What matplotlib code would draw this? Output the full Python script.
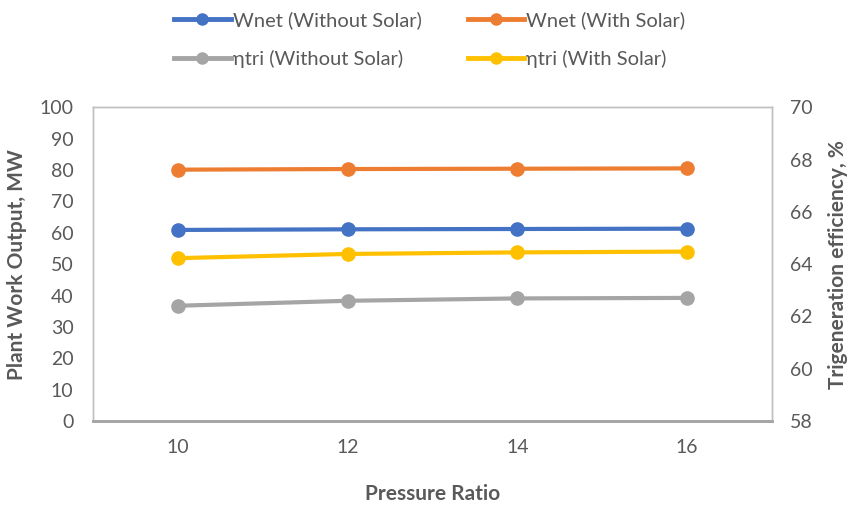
"""Plant work output and trigeneration efficiency against pressure ratio"""

import matplotlib.pyplot as plt
from matplotlib.lines import Line2D

plt.rcParams['font.family'] = ['Lato', 'DejaVu Sans']

pressure_ratio = ['10', '12', '14', '16']
wnet_without = [60.9, 61.1, 61.2, 61.3]
wnet_with = [80.1, 80.3, 80.4, 80.5]
eta_without = [62.41, 62.60, 62.69, 62.71]
eta_with = [64.23, 64.39, 64.45, 64.48]

BLUE = '#4472C4'
ORANGE = '#ED7D31'
GRAY = '#A5A5A5'
YELLOW = '#FFC000'
TEXT = '#595959'

fig = plt.figure(figsize=(8.51, 5.08), dpi=100)
ax = fig.add_axes([0.1093, 0.171, 0.7977, 0.618])
ax2 = ax.twinx()

x = range(len(pressure_ratio))
style = dict(linewidth=3, marker='o', markersize=9.5, solid_capstyle='round')
ax.plot(x, wnet_without, color=BLUE, label='Wnet (Without Solar)', zorder=3, **style)
ax.plot(x, wnet_with, color=ORANGE, label='Wnet (With Solar)', zorder=3, **style)
ax2.plot(x, eta_without, color=GRAY, label='ηtri (Without Solar)', **style)
ax2.plot(x, eta_with, color=YELLOW, label='ηtri (With Solar)', **style)

ax.set_xlim(-0.5, len(pressure_ratio) - 0.5)
ax.set_xticks(list(x))
ax.set_xticklabels(pressure_ratio)
ax.set_ylim(0, 100)
ax.set_yticks(range(0, 101, 10))
ax2.set_ylim(58, 70)
ax2.set_yticks(range(58, 71, 2))

for a in (ax, ax2):
    a.tick_params(length=0, labelsize=14, labelcolor=TEXT)
    for side in ('left', 'right', 'top'):
        a.spines[side].set_color('#BFBFBF')
        a.spines[side].set_linewidth(1)
    a.spines['bottom'].set_color('#A6A6A6')
    a.spines['bottom'].set_linewidth(2)
ax.tick_params(axis='y', pad=14)
ax.tick_params(axis='x', pad=13)
ax2.tick_params(axis='y', pad=13)

label_font = dict(fontsize=15, fontweight='bold', color=TEXT)
ax.set_xlabel('Pressure Ratio', labelpad=20, **label_font)
ax.set_ylabel('Plant Work Output, MW', labelpad=9, **label_font)
ax2.set_ylabel('Trigeneration efficiency, %', labelpad=11, **label_font)

handles = [Line2D([], [], color=c, linewidth=3.5, marker='o', markersize=8)
           for c in (BLUE, ORANGE, GRAY, YELLOW)]
labels = ['Wnet (Without Solar)', 'Wnet (With Solar)',
          'ηtri (Without Solar)', 'ηtri (With Solar)']
order = [0, 2, 1, 3]
fig.legend([handles[i] for i in order], [labels[i] for i in order],
           ncol=2, loc='upper center', bbox_to_anchor=(0.505, 0.998),
           frameon=False, fontsize=14.5, labelcolor=TEXT, borderpad=0,
           handlelength=2.8, handletextpad=0.1, columnspacing=2.3,
           labelspacing=1.05)

plt.savefig('out.png', dpi=100)
